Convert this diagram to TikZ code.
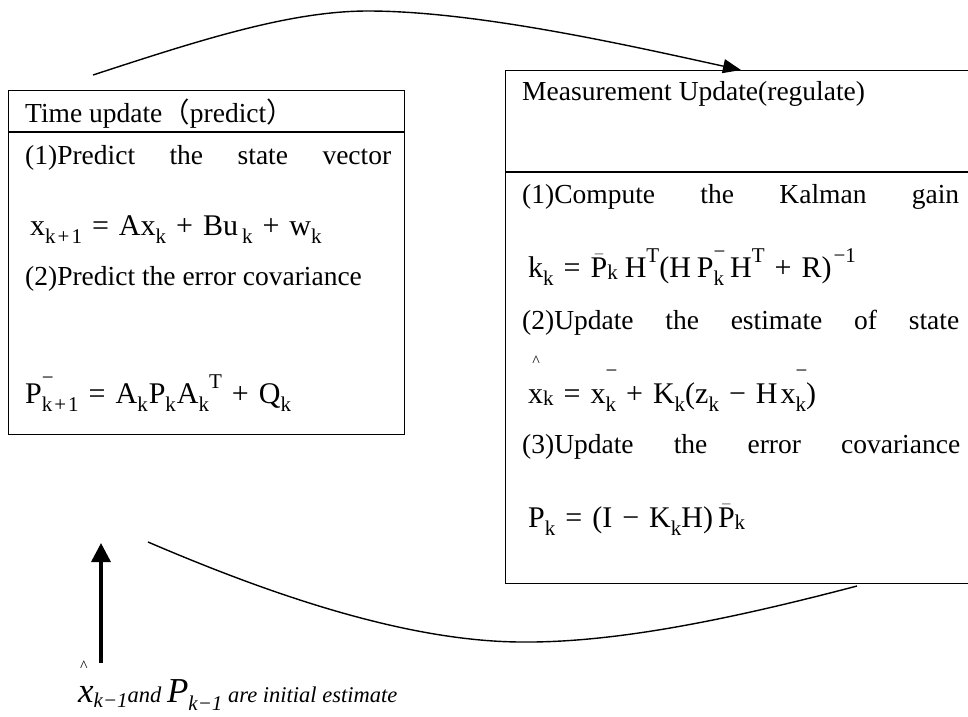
\documentclass[tikz,border=0pt]{standalone}
\usepackage{fontspec}
\setmainfont{Liberation Serif}
\newfontfamily\cjk{Noto Sans CJK SC}
\usetikzlibrary{arrows.meta}

\newcommand\tx{\fontsize{27.5}{30}\selectfont}
\newcommand\fm{\fontsize{30}{32}\selectfont}
\newcommand\sbf{\fontsize{21}{21}\selectfont}
\newcommand\lo[1]{\raisebox{-8pt}{\sbf #1}}
\newcommand\lw[1]{\raisebox{-2pt}{\sbf #1}}
\newcommand\hi[1]{\raisebox{15pt}{\sbf #1}}
\newcommand\stk[2]{\makebox[0pt][l]{\raisebox{#1}{\sbf −}}\lo{#2}}
\newcommand\pbar{\mbox{$\bar{\mbox{P}}$}}
\newcommand\opsp{\hspace{10pt}}
\newcommand\EQ{\opsp=\opsp}
\newcommand\PL{\opsp+\opsp}
\newcommand\MI{\opsp−\opsp}
\newcommand\kp{k\hspace{2pt}+\hspace{2pt}1}

\tikzset{
  box/.style={draw, line width=1.3pt, inner sep=0pt, anchor=north west},
  lbl/.style={inner sep=0pt, anchor=base west},
  caret/.style={inner sep=0pt, font=\fontsize{16}{16}\selectfont},
  flow/.style={line width=1.4pt},
  divider/.style={line width=1.3pt}
}

\begin{document}
\begin{tikzpicture}[x=1pt,y=-1pt]
\useasboundingbox (0,0) rectangle (968,716);
\fill[white] (0,0) rectangle (968,716);

% boxes
\node[box, minimum width=396pt, minimum height=344pt] (tu) at (8,90) {};
\node[box, minimum width=480pt, minimum height=513pt] (mu) at (505,70) {};
\draw[divider] (8,132) -- (404,132);
\draw[divider] (505,172) -- (968,172);

% left box texts
\node[lbl] (lt) at (25,122) {\tx Time update{\cjk （}predict{\cjk ）}};
\node[lbl] (l1) at (25,164) {\tx\makebox[366pt][s]{(1)Predict the state vector}};
\node[lbl] (lf1) at (30,235) {\fm x\lo{\kp}\EQ Ax\lo{k}\PL Bu\hspace{4pt}\lo{k}\PL w\lo{k}};
\node[lbl] (l2) at (25,285) {\tx (2)Predict the error covariance};
\node[lbl] (lf2) at (25,403) {\fm P\stk{19pt}{\kp}\EQ A\lo{k}\hspace{1pt}P\lo{k}\hspace{1pt}A\lo{k}\hi{T}\PL Q\lo{k}};

% right box texts
\node[lbl] (rt) at (522,100) {\tx Measurement Update(regulate)};
\node[lbl] (r1) at (522,203) {\tx\makebox[437pt][s]{(1)Compute the Kalman gain}};
\node[lbl] (rf1) at (528,277) {\fm k\lo{k}\EQ\pbar\lw{k}\hspace{7pt}H\hi{T}(H\hspace{6pt}P\stk{19pt}{k}\hspace{6pt}H\hi{T}\PL R)\hspace{2pt}\hi{−1}};
\node[lbl] (r2) at (522,329) {\tx\makebox[437pt][s]{(2)Update the estimate of state}};
\node[caret] (h1) at (536,361) {\textasciicircum};
\node[lbl] (rf2) at (528,403) {\fm x\lw{k}\EQ x\stk{26pt}{k}\PL K\lo{k}(z\lo{k}\MI H\hspace{3pt}x\stk{26pt}{k})};
\node[lbl] (r3) at (522,453) {\tx\makebox[438pt][s]{(3)Update the error covariance}};
\node[lbl] (rf3) at (528,527) {\fm P\lo{k}\EQ(I\MI K\lo{k}H)\hspace{5pt}\pbar\lw{k}};

% initial estimate label
\node[caret] (h2) at (84,666) {\textasciicircum};
\node[lbl] (init) at (78,702) {\itshape{\fontsize{35}{35}\selectfont x}\raisebox{-5pt}{\fontsize{21}{21}\selectfont k−1}\fontsize{22.5}{22.5}\selectfont and {\fontsize{35}{35}\selectfont P}\raisebox{-8pt}{\fontsize{21}{21}\selectfont k−1} are initial estimate};

% connectors
\coordinate (a1) at (93,75);
\coordinate (a2) at (741,70);
\draw[flow, -{Triangle[length=18pt,width=14pt]}] (a1) .. controls (200,40) and (290,11) .. (368,11) .. controls (480,11) and (640,48) .. (a2);

\coordinate (b1) at (857,586);
\coordinate (b2) at (148,542);
\draw[flow] (b1) .. controls (720,622) and (610,643) .. (520,642) .. controls (400,641) and (260,590) .. (b2);

\coordinate (v1) at (101,663);
\coordinate (v2) at (101,543);
\draw[line width=3.5pt, -{Triangle[length=19pt,width=19pt]}] (v1) -- (v2);
\end{tikzpicture}
\end{document}
